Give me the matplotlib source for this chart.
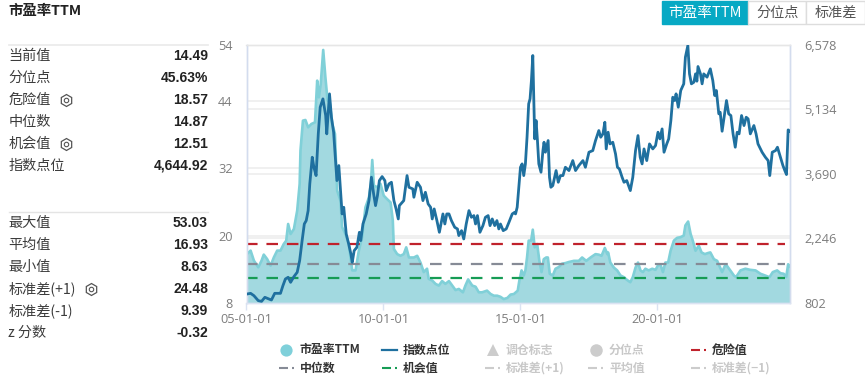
import matplotlib
matplotlib.use('Agg')
import matplotlib.pyplot as plt
from matplotlib.patches import Rectangle
from matplotlib.transforms import blended_transform_factory

CJK = ['Noto Sans CJK SC', 'DejaVu Sans']
plt.rcParams['font.family'] = CJK

# ---------- data ----------
pe_years = [2005.0,2005.02,2005.15,2005.27,2005.43,2005.55,2005.63,2005.75,2005.88,2006.0,2006.12,2006.24,2006.36,2006.45,2006.52,2006.61,2006.73,2006.85,2006.94,2006.97,
 2007.06,2007.15,2007.25,2007.37,2007.5,2007.58,2007.64,2007.71,2007.8,2007.88,2007.96,2008.03,2008.13,2008.23,2008.25,2008.31,2008.43,2008.49,2008.61,2008.73,
 2008.86,2008.98,2009.1,2009.22,2009.34,2009.47,2009.54,2009.59,2009.65,2009.77,2009.89,2010.01,2010.13,2010.26,2010.34,2010.38,2010.5,2010.62,2010.74,2010.83,
 2010.93,2011.11,2011.23,2011.35,2011.47,2011.59,2011.65,2011.78,2011.9,2012.02,2012.14,2012.26,2012.39,2012.51,2012.63,2012.75,2012.9,2012.99,2013.09,2013.24,
 2013.36,2013.48,2013.6,2013.78,2013.91,2014.03,2014.15,2014.27,2014.39,2014.52,2014.64,2014.76,2014.9,2014.96,2015.04,2015.12,2015.18,2015.24,2015.3,2015.39,
 2015.45,2015.52,2015.61,2015.69,2015.77,2015.85,2015.94,2016.0,2016.07,2016.18,2016.28,2016.4,2016.52,2016.64,2016.77,2016.95,2017.13,2017.25,2017.4,2017.56,
 2017.74,2017.86,2017.96,2018.08,2018.17,2018.2,2018.28,2018.41,2018.53,2018.65,2018.77,2018.89,2019.01,2019.1,2019.2,2019.29,2019.38,2019.47,2019.56,2019.68,
 2019.81,2019.93,2020.02,2020.11,2020.2,2020.29,2020.39,2020.48,2020.6,2020.72,2020.84,2020.96,2021.02,2021.12,2021.21,2021.29,2021.39,2021.51,2021.61,2021.73,
 2021.85,2021.93,2022.06,2022.18,2022.26,2022.36,2022.46,2022.54,2022.66,2022.79,2022.87,2023.03,2023.21,2023.39,2023.58,2023.76,2023.92,2024.09,2024.21,2024.37,
 2024.49,2024.61,2024.7,2024.77,2024.82]
pe_values = [16.5,16.73,17.32,15.54,14.35,15.54,16.61,15.84,14.65,16.13,17.32,17.32,18.5,19.1,22.06,20.28,21.17,24.43,29.18,35.11,
 40.45,40.57,39.26,39.86,40.15,47.57,44.6,46.97,53.03,48.16,44.0,44.0,39.86,38.08,35.1,28.0,26.2,21.5,20.3,18.5,
 13.8,13.8,17.3,19.7,25.0,26.8,29.2,33.45,28.9,28.6,29.2,27.1,26.5,25.9,22.7,17.6,16.7,16.4,16.7,17.9,
 16.1,16.1,16.4,15.2,13.5,14.1,12.3,12.0,11.4,11.1,11.9,11.4,11.9,11.1,10.3,10.5,9.9,11.1,12.2,11.1,
 10.9,9.9,9.9,10.2,9.6,9.3,9.3,9.1,8.7,8.9,9.5,9.6,10.2,12.0,13.8,12.9,13.8,16.1,19.1,19.1,
 21.05,17.9,18.5,15.5,13.5,15.8,16.1,16.1,13.2,12.9,14.1,14.4,15.0,15.1,15.3,15.5,15.5,16.1,15.5,16.1,
 16.7,16.6,16.4,17.8,16.7,17.0,15.2,14.3,13.8,12.9,12.6,12.1,11.7,12.6,14.3,15.2,13.8,13.5,14.1,13.8,
 14.1,13.9,14.7,14.8,13.5,15.2,15.2,17.3,19.1,19.6,19.7,20.0,21.8,22.5,20.3,19.1,17.3,18.2,17.0,16.7,
 16.9,17.0,15.8,15.5,14.6,13.5,14.6,14.6,13.8,12.9,12.6,13.8,14.1,13.9,13.8,13.2,12.9,12.6,13.5,13.8,
 13.3,13.2,12.6,14.9,14.49]

idx_years = [2005.0,2005.02,2005.15,2005.27,2005.43,2005.55,2005.67,2005.79,2005.91,2006.03,2006.16,2006.24,2006.33,2006.42,2006.52,2006.61,2006.73,2006.85,2006.94,2007.03,
 2007.11,2007.18,2007.25,2007.31,2007.4,2007.46,2007.54,2007.62,2007.69,2007.79,2007.89,2007.93,2008.03,2008.1,2008.18,2008.25,2008.3,2008.37,2008.43,2008.49,
 2008.55,2008.64,2008.73,2008.81,2008.86,2008.93,2009.03,2009.12,2009.17,2009.25,2009.37,2009.47,2009.56,2009.64,2009.71,2009.78,2009.85,2009.95,2010.05,2010.1,
 2010.2,2010.29,2010.38,2010.46,2010.54,2010.58,2010.74,2010.86,2010.93,2011.07,2011.11,2011.23,2011.35,2011.44,2011.53,2011.63,2011.72,2011.78,2011.85,2011.95,
 2012.04,2012.17,2012.24,2012.31,2012.39,2012.48,2012.6,2012.7,2012.75,2012.85,2012.93,2013.02,2013.12,2013.21,2013.3,2013.36,2013.43,2013.52,2013.63,2013.72,
 2013.82,2013.89,2013.97,2014.06,2014.14,2014.21,2014.27,2014.37,2014.48,2014.58,2014.7,2014.79,2014.82,2014.88,2014.94,2015.0,2015.06,2015.12,2015.18,2015.24,
 2015.3,2015.35,2015.4,2015.45,2015.49,2015.52,2015.57,2015.62,2015.67,2015.75,2015.82,2015.86,2015.91,2016.01,2016.06,2016.11,2016.18,2016.3,2016.38,2016.46,
 2016.55,2016.64,2016.77,2016.91,2017.01,2017.13,2017.28,2017.37,2017.5,2017.64,2017.74,2017.86,2017.93,2018.01,2018.08,2018.13,2018.2,2018.27,2018.37,2018.47,
 2018.54,2018.61,2018.71,2018.78,2018.88,2019.01,2019.1,2019.2,2019.29,2019.37,2019.44,2019.51,2019.61,2019.71,2019.83,2019.93,2020.02,2020.09,2020.17,2020.24,
 2020.34,2020.41,2020.49,2020.56,2020.63,2020.68,2020.76,2020.85,2020.96,2021.02,2021.11,2021.17,2021.24,2021.33,2021.39,2021.44,2021.48,2021.57,2021.63,2021.69,
 2021.81,2021.93,2022.02,2022.09,2022.15,2022.24,2022.29,2022.36,2022.46,2022.52,2022.6,2022.68,2022.76,2022.84,2022.91,2022.98,2023.07,2023.16,2023.24,2023.31,
 2023.39,2023.52,2023.6,2023.67,2023.82,2023.94,2024.04,2024.1,2024.19,2024.31,2024.38,2024.49,2024.58,2024.65,2024.71,2024.77,2024.82]
idx_values = [1000,1003,1018,966,854,839,929,899,869,1018,1018,1018,1190,1339,1376,1264,1391,1488,1749,2196,
 2568,2643,2866,3463,4059,3835,3649,4581,5177,5363,4991,4581,5475,4953,4618,3984,3537,3873,3314,2792,
 2941,2345,2121,1898,1711,1972,2047,2382,2196,2568,2792,3090,3612,3239,2978,3202,3537,3627,3537,3314,
 3463,3500,3090,2904,2680,2978,3090,3649,3388,3351,3165,3500,3388,3090,3276,3016,2941,2680,2904,2643,
 2382,2792,2568,2792,2792,2643,2494,2457,2308,2419,2233,2568,2866,2717,2755,2568,2755,2382,2531,2717,
 2755,2531,2680,2531,2643,2457,2568,2419,2457,2606,2792,2829,2792,2941,3388,3835,3910,3649,3910,4506,
 5252,5363,5773,6332,5252,4469,4879,4432,3910,3724,4208,4394,4171,4432,3612,3388,3425,3761,3500,3649,
 3649,3835,3761,3984,3761,3873,3984,3835,4171,4208,4432,4655,4506,4581,4841,4245,4618,4357,4394,4133,
 3835,3798,3612,3500,3537,3314,3612,4208,4543,4059,3910,4245,3984,4357,4245,4320,4618,4469,4692,4171,
 4357,4469,4879,5400,5326,5475,5177,5550,5699,6295,6556,5922,5699,5736,5922,5758,6086,5922,5699,5922,
 5848,6034,5773,5438,5550,5028,5065,4640,5065,5326,5028,4991,4581,4283,4618,4581,4991,4767,4953,4916,
 4581,4767,4581,4357,4171,4059,3984,3649,4171,4208,4283,4059,3873,3761,3672,4670,4645]

danger_value = 18.57
median_value = 14.87
chance_value = 12.51
line_end_year = 2024.65

left_ticks = [8, 20, 32, 44, 54]
right_ticks = [802, 2246, 3690, 5134, 6578]
right_labels = ['802', '2,246', '3,690', '5,134', '6,578']
x_ticks = [2005, 2010, 2015, 2020]
x_labels = ['05-01-01', '10-01-01', '15-01-01', '20-01-01']

stats_top = [('当前值', '14.49', False), ('分位点', '45.63%', False), ('危险值', '18.57', True),
             ('中位数', '14.87', False), ('机会值', '12.51', True), ('指数点位', '4,644.92', False)]
stats_bottom = [('最大值', '53.03', False), ('平均值', '16.93', False), ('最小值', '8.63', False),
                ('标准差(+1)', '24.48', True), ('标准差(-1)', '9.39', False), ('z 分数', '-0.32', False)]

# ---------- figure ----------
W, H = 865, 382
fig = plt.figure(figsize=(W/100, H/100), dpi=100, facecolor='white')
L, R, T, B = 246.5, 789.5, 44.5, 303.0
ax = fig.add_axes([L/W, 1-B/H, (R-L)/W, (B-T)/H])
ax.set_xlim(2005, 2024.82)
ax.set_ylim(8, 54)
ax2 = ax.twinx()
ax2.set_ylim(802, 6578)
ax.set_zorder(1); ax2.set_zorder(2)

TICKC = '#7d7d7d'
GRID = '#eeeeee'
ax.set_yticks(left_ticks)
ax2.set_yticks(right_ticks, right_labels)
ax.set_xticks(x_ticks, x_labels)
tickfont = dict(family='Open Sans', size=9.2, color=TICKC)
for lab in ax.get_xticklabels() + ax.get_yticklabels() + ax2.get_yticklabels():
    lab.set(**tickfont)
ax.yaxis.set_tick_params(length=0, pad=10)
ax2.yaxis.set_tick_params(length=0, pad=10.5)
ax.xaxis.set_tick_params(length=5, width=1, color='#dbe3f2', pad=2.5)
ax.set_axisbelow(True)
ax.grid(axis='y', color=GRID, lw=1.2, zorder=0)
# right-axis grid lines, kept on the lower axes so the area covers them
right_tf = blended_transform_factory(ax.transAxes, ax2.transData)
for v in right_ticks:
    ax.plot([0, 1], [v, v], transform=right_tf, color=GRID, lw=1.2, zorder=1)
ax2.patch.set_visible(False)
for a in (ax, ax2):
    a.spines['top'].set_color('#e6e6e6')
    a.spines['bottom'].set_color('#dbe3f2')
    a.spines['left'].set_color('#d3dcee')
    a.spines['right'].set_color('#d3dcee')
    for s in a.spines.values():
        s.set_linewidth(1)

ax.fill_between(pe_years, pe_values, 8, color='#a2d9e0', lw=0, zorder=2)
ax.plot(pe_years, pe_values, color='#80d0d8', lw=1.9, zorder=3, solid_joinstyle='round')
for v, c in ((danger_value, '#c0222c'), (median_value, '#868b96'), (chance_value, '#169c55')):
    ax.plot([2005, line_end_year], [v, v], color=c, lw=1.6, dashes=(5.2, 4.0), zorder=4)
ax2.plot(idx_years, idx_values, color='#1f709f', lw=2.0, zorder=5, solid_joinstyle='round')

# ---------- overlay in pixel units ----------
ov = fig.add_axes([0, 0, 1, 1], facecolor='none')
ov.set_xlim(0, W); ov.set_ylim(H, 0); ov.axis('off'); ov.set_zorder(3)

ov.text(8.5, 11, '市盈率TTM', fontsize=10.4, fontweight='bold', color='#222222', va='center')

def gear(x, y):
    ov.plot([x], [y], marker='h', ms=8.6, mfc='none', mec='#555555', mew=0.9, ls='none')
    ov.plot([x], [y], marker='o', ms=3.2, mfc='none', mec='#555555', mew=0.8, ls='none')

LAB = '#3c3c3c'
def rows(items, ys):
    for (name, val, has_gear), y in zip(items, ys):
        ov.text(8.5, y, name, fontsize=10.2, color=LAB, va='center')
        ov.text(208, y, val, fontsize=10, fontweight='bold', color='#222222', va='center', ha='right', family='Liberation Sans')
        if has_gear:
            gx = 66 if len(name) == 3 else 91
            gear(gx, y)

ov.plot([9, 208], [45, 45], color='#ececec', lw=1.3)
ov.plot([9, 208], [212, 212], color='#e4e4e4', lw=1.0)
rows(stats_top, [55.5, 77.5, 99.5, 122, 144, 166])
rows(stats_bottom, [223, 245, 267, 289, 311, 333])

# buttons
ov.add_patch(Rectangle((662, 1), 86, 23, fc='#07a9c4', ec='#07a9c4', lw=1))
ov.add_patch(Rectangle((748, 1), 58, 23, fc='white', ec='#dddddd', lw=1))
ov.add_patch(Rectangle((806, 1), 59, 23, fc='white', ec='#dddddd', lw=1))
ov.text(705, 12.5, '市盈率TTM', fontsize=10.5, color='white', ha='center', va='center')
ov.text(778, 12.5, '分位点', fontsize=10.2, color='#555555', ha='center', va='center')
ov.text(836, 12.5, '标准差', fontsize=10.2, color='#555555', ha='center', va='center')

# legend
ON = '#333333'; OFF = '#c8c8c8'
def leg_text(x, y, s, c):
    ov.text(x, y, s, fontsize=8.6, fontweight='bold', color=c, va='center')
def leg_dash(x, y, c):
    ov.plot([x, x+9], [y, y], color=c, lw=1.5, solid_capstyle='butt')
    ov.plot([x+13, x+15], [y, y], color=c, lw=1.5, solid_capstyle='butt')

y1, y2 = 350, 368
ov.plot([286], [y1], marker='o', ms=8.8, color='#7fd0da', mew=0, ls='none')
leg_text(300, y1, '市盈率TTM', ON)
ov.plot([382, 397], [y1, y1], color='#1f709f', lw=1.6)
leg_text(403, y1, '指数点位', ON)
ov.plot([493], [y1], marker='^', ms=8.5, color='#cccccc', mew=0, ls='none')
leg_text(506, y1, '调仓标志', OFF)
ov.plot([596], [y1], marker='o', ms=9, color='#cccccc', mew=0, ls='none')
leg_text(609, y1, '分位点', OFF)
leg_dash(691, y1, '#c0222c')
leg_text(712, y1, '危险值', ON)
leg_dash(279, y2, '#868b96')
leg_text(300, y2, '中位数', ON)
leg_dash(382, y2, '#169c55')
leg_text(403, y2, '机会值', ON)
leg_dash(485, y2, '#cccccc')
leg_text(506, y2, '标准差(+1)', OFF)
leg_dash(588, y2, '#cccccc')
leg_text(609, y2, '平均值', OFF)
leg_dash(691, y2, '#cccccc')
leg_text(712, y2, '标准差(−1)', OFF)

fig.savefig('out.png', dpi=100)
